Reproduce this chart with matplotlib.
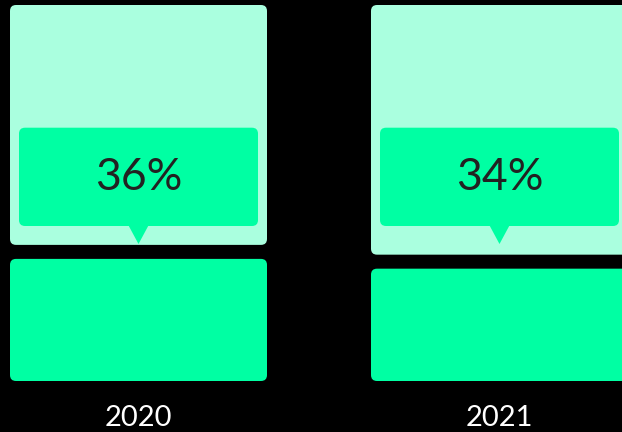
import matplotlib
matplotlib.use("Agg")
import matplotlib.pyplot as plt
from matplotlib.patches import FancyBboxPatch, Polygon

# ---- data ----
years = ["2020", "2021"]
share = [36.2, 33.6]          # bottom (bright) segment, percent
total = [100, 100]

# ---- style ----
BG = "#000000"
LIGHT = "#AAFFDF"
BRIGHT = "#00FFA3"
TEXT_DARK = "#222222"
FONT = ["Lato", "DejaVu Sans"]

W_PX, H_PX, DPI = 622, 432, 100
fig = plt.figure(figsize=(W_PX / DPI, H_PX / DPI), dpi=DPI, facecolor=BG)
ax = fig.add_axes([0, 0, 1, 1], facecolor=BG)

# pixel-based layout for axis limits
x_unit = 361.0                  # px per category
y_unit = 3.76                   # px per percent
x0_px = 138.5                   # centre of first bar
base_px = 381.0                 # y pixel of 0
ax.set_xlim(-x0_px / x_unit, (W_PX - x0_px) / x_unit)
ax.set_ylim(-(H_PX - base_px) / y_unit, base_px / y_unit)
ax.axis("off")

bar_w = 257 / x_unit
gap = 14 / y_unit
radius_x = 6 / x_unit
aspect = x_unit / y_unit

xs = list(range(len(years)))
bottoms = ax.bar(xs, [s - gap for s in share], width=bar_w, color=BRIGHT)
tops = ax.bar(xs, [t - s for t, s in zip(total, share)], bottom=share,
              width=bar_w, color=LIGHT)


def roundify(container):
    for p in container.patches:
        x, y = p.get_x(), p.get_y()
        w, h = p.get_width(), p.get_height()
        fc = p.get_facecolor()
        p.remove()
        ax.add_patch(FancyBboxPatch((x, y), w, h,
                                    boxstyle=f"round,pad=0,rounding_size={radius_x}",
                                    mutation_aspect=aspect, fc=fc, ec="none"))


roundify(bottoms)
roundify(tops)

# label callouts (fixed vertical placement)
inset = 9 / x_unit
box_lo = (base_px - 226) / y_unit
box_hi = (base_px - 127.7) / y_unit
tip_y = (base_px - 244) / y_unit
tri_half = 10.3 / x_unit
for i, s in zip(xs, share):
    bx = i - bar_w / 2 + inset
    bw = bar_w - 2 * inset
    ax.add_patch(FancyBboxPatch((bx, box_lo), bw, box_hi - box_lo,
                                boxstyle=f"round,pad=0,rounding_size={radius_x}",
                                mutation_aspect=aspect, fc=BRIGHT, ec="none"))
    ax.add_patch(Polygon([(i - tri_half, box_lo + 0.3), (i + tri_half, box_lo + 0.3),
                          (i, tip_y)], closed=True, fc=BRIGHT, ec="none"))
    ax.text(i, (box_lo + box_hi) / 2 - 0.3, f"{s:.0f}%", ha="center", va="center",
            fontsize=32, color=TEXT_DARK, family=FONT, fontweight="normal")
    ax.text(i, -(418 - base_px) / y_unit, years[i], ha="center", va="center",
            fontsize=21, color="white", family=FONT, fontweight="normal")

fig.savefig("out.png", dpi=DPI, facecolor=BG)
